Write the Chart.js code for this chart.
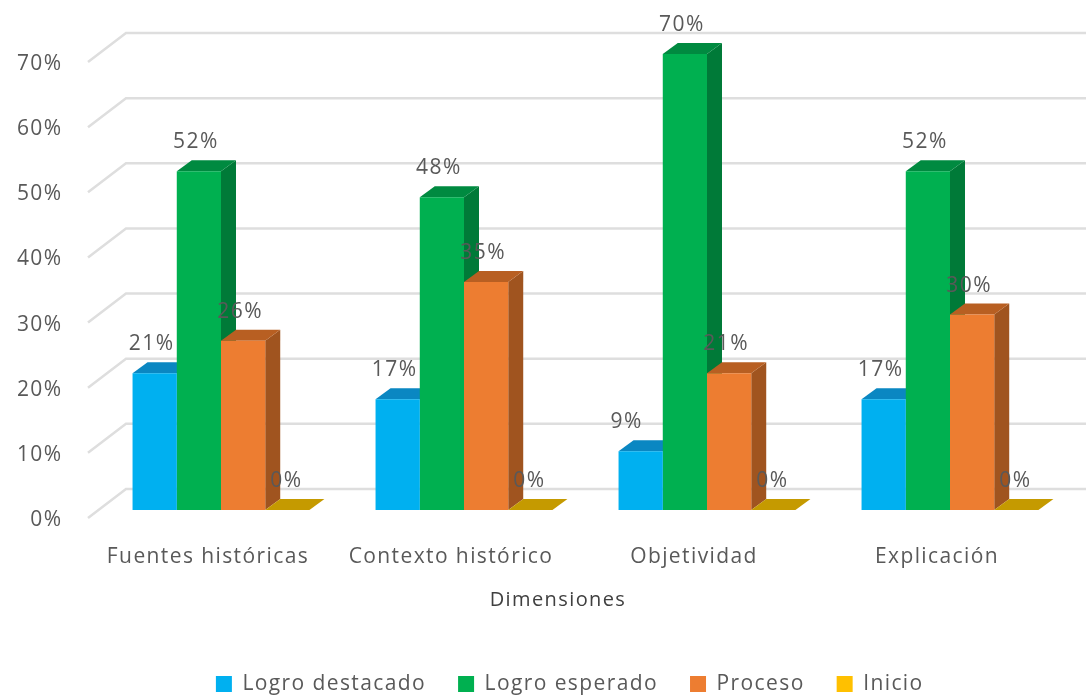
<!DOCTYPE html>
<html lang="es">
<head>
  <meta charset="UTF-8">
  <title>Dimensiones</title>
  <script src="https://cdn.jsdelivr.net/npm/chart.js"></script>
  <style>
    html, body { margin: 0; background: #fff; }
    #wrap { width: 1086px; height: 695px; }
  </style>
</head>
<body>
<div id="wrap"><canvas id="barChart" width="1086" height="695"></canvas></div>
<script>
  const categories = ["Fuentes históricas", "Contexto histórico", "Objetividad", "Explicación"];
  const logroDestacado = [21, 17, 9, 17];
  const logroEsperado = [52, 48, 70, 52];
  const proceso = [26, 35, 21, 30];
  const inicio = [0, 0, 0, 0];
  const axisTitle = "Dimensiones";

  const FONT = '"Open Sans", sans-serif';
  const TEXT = '#595959';
  // depth of the fake 3D extrusion
  const depthX = 15, depthY = 11;
  const sideColors = ['#0084b4', '#007a38', '#a0541f', '#b58c00'];
  const topColors = ['#0a87c2', '#008a40', '#b85f22', '#c59a00'];

  const spacing = {
    id: 'spacing',
    beforeLayout(chart) { chart.ctx.letterSpacing = '1.4px'; },
    beforeDraw(chart) { chart.ctx.letterSpacing = '1.4px'; }
  };

  // legend sits off centre in the original
  const legendShift = {
    id: 'legendShift',
    afterLayout(chart) {
      const lg = chart.legend;
      lg.left += 34; lg.right += 34;
      lg.top += 9.5; lg.bottom += 9.5;
    }
  };

  // back wall gridlines with the diagonal going to the axis
  const wall = {
    id: 'wall',
    beforeDatasetsDraw(chart) {
      const { ctx, chartArea, scales } = chart;
      ctx.save();
      ctx.strokeStyle = '#dedede';
      ctx.lineWidth = 2.5;
      scales.y.ticks.forEach(t => {
        const y = scales.y.getPixelForValue(t.value);
        ctx.beginPath();
        ctx.moveTo(chartArea.left - 11.5, y + 8);
        ctx.lineTo(chartArea.left + 26.5, y - 21);
        ctx.lineTo(chart.width, y - 21);
        ctx.stroke();
      });
      ctx.restore();

      // side and top faces, the library paints the fronts over them
      chart.data.datasets.forEach((ds, i) => {
        chart.getDatasetMeta(i).data.forEach(bar => {
          const p = bar.getProps(['x', 'y', 'base', 'width'], true);
          const l = p.x - p.width / 2, r = p.x + p.width / 2;
          ctx.fillStyle = sideColors[i];
          ctx.beginPath();
          ctx.moveTo(r, p.base);
          ctx.lineTo(r + depthX, p.base - depthY);
          ctx.lineTo(r + depthX, p.y - depthY);
          ctx.lineTo(r, p.y);
          ctx.closePath();
          ctx.fill();
          ctx.fillStyle = topColors[i];
          ctx.beginPath();
          ctx.moveTo(l, p.y);
          ctx.lineTo(l + depthX, p.y - depthY);
          ctx.lineTo(r + depthX, p.y - depthY);
          ctx.lineTo(r, p.y);
          ctx.closePath();
          ctx.fill();
        });
      });
    },
    afterDatasetsDraw(chart) {
      const { ctx } = chart;
      ctx.save();
      ctx.font = '21px ' + FONT;
      ctx.fillStyle = TEXT;
      ctx.textAlign = 'center';
      ctx.textBaseline = 'middle';
      chart.data.datasets.forEach((ds, i) => {
        chart.getDatasetMeta(i).data.forEach((bar, j) => {
          const v = ds.data[j];
          // the single digit label was dragged left of its bar
          const nudge = v === 0 ? -1 : v < 10 ? -14 : -3;
          ctx.fillText(v + '%', bar.x + nudge, bar.y - 29);
        });
      });
      ctx.font = '20px ' + FONT;
      ctx.fillStyle = '#404040';
      ctx.fillText(axisTitle, 558, 600);
      ctx.restore();
    }
  };

  new Chart(document.getElementById('barChart'), {
    type: 'bar',
    data: {
      labels: categories,
      datasets: [
        { label: 'Logro destacado', data: logroDestacado, backgroundColor: '#00b0f0' },
        { label: 'Logro esperado', data: logroEsperado, backgroundColor: '#00b050' },
        { label: 'Proceso', data: proceso, backgroundColor: '#ed7d31' },
        { label: 'Inicio', data: inicio, backgroundColor: '#ffc000' }
      ]
    },
    options: {
      responsive: false,
      animation: false,
      barPercentage: 1,
      categoryPercentage: 0.728,
      layout: { padding: { right: 14.5, top: 54 } },
      plugins: {
        tooltip: { enabled: false },
        legend: {
          position: 'bottom',
          labels: { boxWidth: 16, boxHeight: 16, padding: 32, color: TEXT, font: { family: FONT, size: 21 } }
        }
      },
      scales: {
        x: {
          grid: { display: false, drawTicks: false },
          border: { display: false },
          afterFit(s) { s.height = 122; },
          ticks: { padding: 34, labelOffset: -13, maxRotation: 0, color: TEXT, font: { family: FONT, size: 21 } }
        },
        y: {
          min: 0,
          max: 70,
          grid: { display: false, drawTicks: false },
          border: { display: false },
          afterFit(s) { s.width = 99.5; },
          ticks: {
            stepSize: 10,
            padding: 37,
            labelOffset: 10,
            color: TEXT,
            font: { family: FONT, size: 21 },
            callback: v => v + '%'
          }
        }
      }
    },
    plugins: [spacing, legendShift, wall]
  });
</script>
</body>
</html>
